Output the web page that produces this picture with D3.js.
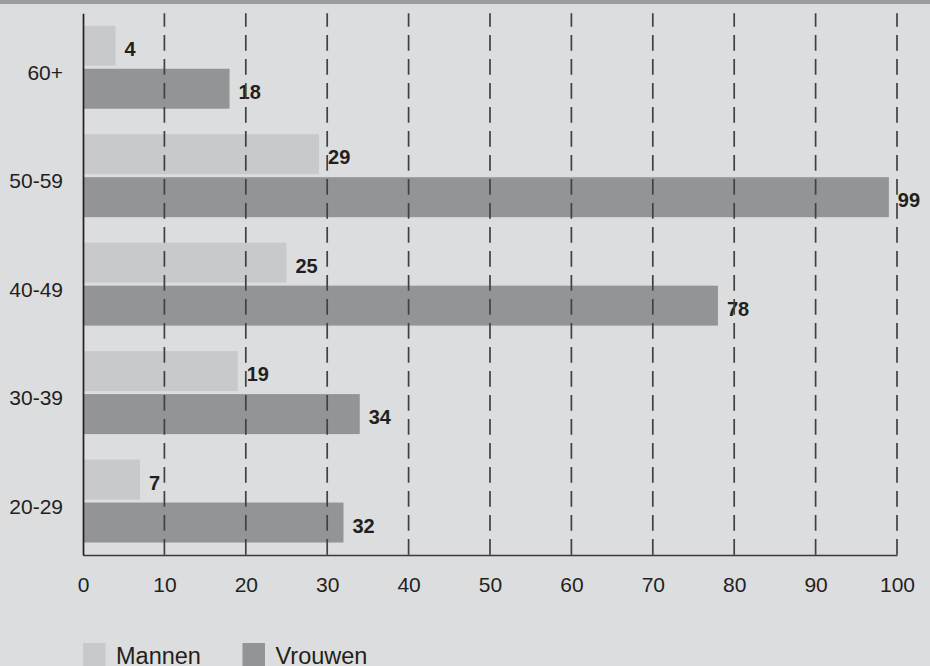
<!DOCTYPE html>
<html>
<head>
<meta charset="utf-8">
<script src="https://cdn.jsdelivr.net/npm/d3@7/dist/d3.min.js"></script>
<style>
    body { margin: 0; background: #dcdddf; }
    svg { display: block; font-family: "Liberation Sans", Arial, sans-serif; }
</style>
</head>
<body>
<div id="chart"></div>
<script>
const categories = ["60+", "50-59", "40-49", "30-39", "20-29"];
const mannen = [4, 29, 25, 19, 7];
const vrouwen = [18, 99, 78, 34, 32];
const ticks = [0, 10, 20, 30, 40, 50, 60, 70, 80, 90, 100];
const seriesNames = ["Mannen", "Vrouwen"];

const width = 930;
const height = 666;

const colors = {
    Mannen: "#c8c9cb",
    Vrouwen: "#939497"
};
const ink = "#231f20";
const font = "'Liberation Sans', Arial, sans-serif";

const svg = d3.select("#chart")
    .append("svg")
    .attr("width", width)
    .attr("height", height);

svg.append("rect")
    .attr("width", width)
    .attr("height", height)
    .attr("fill", "#dcdddf");

// grey stripe along the top
svg.append("rect")
    .attr("width", width)
    .attr("height", 4)
    .attr("fill", "#9b9c9e");

const x = d3.scaleLinear().domain([0, 100]).range([83, 897]);

const y = d3.scaleBand()
    .domain(categories)
    .range([13.3, 555])
    .paddingInner(0.235)
    .paddingOuter(0.115);

const sub = d3.scaleBand()
    .domain(seriesNames)
    .range([0, y.bandwidth()])
    .paddingInner(0.07);

const rows = categories.map((c, i) => ({ cat: c, Mannen: mannen[i], Vrouwen: vrouwen[i] }));

const group = svg.append("g")
    .selectAll("g")
    .data(rows)
    .join("g")
    .attr("transform", d => `translate(0,${y(d.cat)})`);

// value labels first, the dashes run over them like in the print
group.selectAll("text.val")
    .data(d => seriesNames.map(s => ({ s, v: d[s] })))
    .join("text")
    .attr("class", "val")
    .attr("x", d => x(d.v) + 9)
    .attr("y", d => sub(d.s) + sub.bandwidth() / 2 + 10)
    .attr("font-size", 20)
    .attr("font-weight", "bold")
    .attr("fill", ink)
    .text(d => d.v);

// dashed gridlines
svg.append("g")
    .selectAll("line")
    .data(ticks.slice(1))
    .join("line")
    .attr("x1", d => x(d))
    .attr("x2", d => x(d))
    .attr("y1", 13.3)
    .attr("y2", 555)
    .attr("stroke", "#414143")
    .attr("stroke-width", 1.7)
    .attr("stroke-dasharray", "15.7,8.3")
    .attr("stroke-dashoffset", 2.3);

group.selectAll("rect")
    .data(d => seriesNames.map(s => ({ s, v: d[s] })))
    .join("rect")
    .attr("x", x(0))
    .attr("y", d => sub(d.s))
    .attr("width", d => x(d.v) - x(0))
    .attr("height", sub.bandwidth())
    .attr("fill", d => colors[d.s]);

// axes
const xAxis = svg.append("g")
    .attr("transform", "translate(0,555)")
    .call(d3.axisBottom(x).tickValues(ticks).tickSize(0).tickPadding(22));
xAxis.select(".domain").attr("stroke", "#3a3a3c").attr("stroke-width", 1.7);
xAxis.selectAll("text").attr("font-size", 21).attr("fill", ink).attr("font-family", font);

const yAxis = svg.append("g")
    .attr("transform", `translate(${x(0)},0)`)
    .call(d3.axisLeft(y).tickSize(0).tickPadding(20));
yAxis.select(".domain").attr("stroke", ink).attr("stroke-width", 1.7);
yAxis.selectAll("text").attr("font-size", 21).attr("fill", ink).attr("font-family", font)
    .attr("dy", "0.6em");

// legend
const legend = svg.append("g")
    .selectAll("g")
    .data(seriesNames)
    .join("g")
    .attr("transform", (d, i) => `translate(${83 + i * 159.5},643)`);

legend.append("rect")
    .attr("width", 22.5)
    .attr("height", 23)
    .attr("fill", d => colors[d]);

legend.append("text")
    .attr("x", 33)
    .attr("y", 20.5)
    .attr("font-size", 23.5)
    .attr("fill", ink)
    .text(d => d);
</script>
</body>
</html>
